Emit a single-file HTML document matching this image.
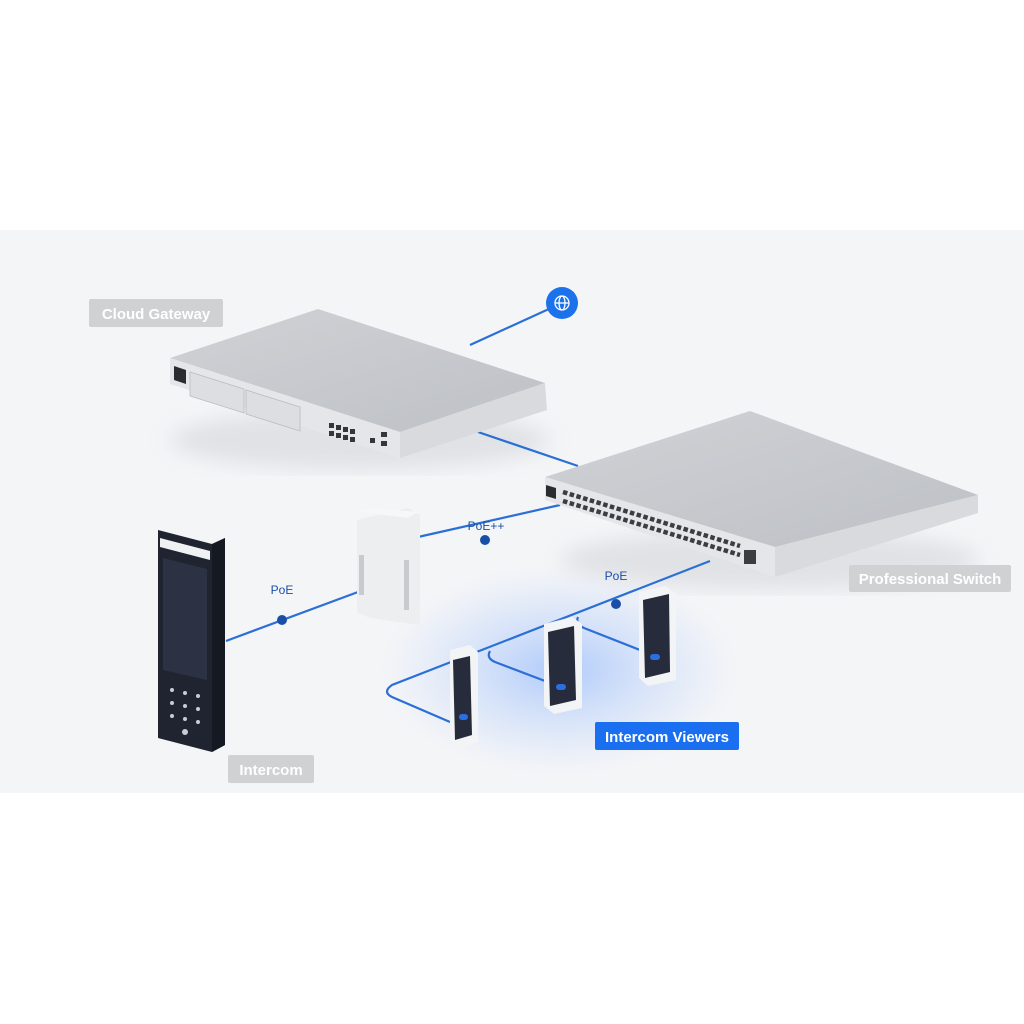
<!DOCTYPE html>
<html><head><meta charset="utf-8"><style>
html,body{margin:0;padding:0;background:#fff;}
svg{display:block}
text{font-family:"Liberation Sans",sans-serif}
</style></head><body>
<svg width="1024" height="1024" viewBox="0 0 1024 1024" xmlns="http://www.w3.org/2000/svg">
<defs>
<radialGradient id="glow" cx="50%" cy="50%" r="50%">
<stop offset="0" stop-color="#5a96ff" stop-opacity="0.45"/>
<stop offset="0.6" stop-color="#8ab4ff" stop-opacity="0.2"/>
<stop offset="1" stop-color="#a8c6ff" stop-opacity="0"/>
</radialGradient>
<linearGradient id="topg" x1="0" y1="0" x2="1" y2="1">
<stop offset="0" stop-color="#d0d2d6"/><stop offset="1" stop-color="#bdc0c5"/>
</linearGradient>
<filter id="blur"><feGaussianBlur stdDeviation="10"/></filter>
</defs>
<rect x="0" y="230" width="1024" height="563" fill="#f4f5f7"/>

<ellipse cx="560" cy="670" rx="180" ry="105" fill="url(#glow)"/>

<ellipse cx="360" cy="440" rx="190" ry="30" fill="#d8dadf" filter="url(#blur)" opacity="0.7"/>
<ellipse cx="770" cy="560" rx="210" ry="30" fill="#d8dadf" filter="url(#blur)" opacity="0.7"/>

<g stroke="#2b6fd6" stroke-width="2.2" fill="none">
<line x1="562" y1="303" x2="470" y2="345"/>
<line x1="478" y1="432" x2="578" y2="466"/>
<line x1="418" y1="537" x2="560" y2="505"/>
<line x1="226" y1="641" x2="358" y2="592"/>
<path d="M710 561 L392 685 Q382 692 392 697 L450 722"/>
<path d="M490 651 Q486 658 495 662 L545 681"/>
<path d="M578 617 Q575 624 584 628 L640 650"/>
</g>

<circle cx="562" cy="303" r="16" fill="#1c72ea"/>
<g stroke="#fff" stroke-width="1.3" fill="none">
<circle cx="562" cy="303" r="7"/><ellipse cx="562" cy="303" rx="3" ry="7"/>
<line x1="555" y1="303" x2="569" y2="303"/>
</g>

<polygon points="170,358 318,309 545,383 400,432" fill="url(#topg)"/>
<polygon points="170,358 400,432 400,458 170,384" fill="#e4e6e9"/>
<polygon points="400,432 545,383 547,410 400,458" fill="#d8dadd"/>
<polygon points="174,366 186,370 186,384 174,380" fill="#2a2c30"/>
<polygon points="190,372 244,389 244,413 190,396" fill="#dcdee1" stroke="#b8bbc0" stroke-width="0.8"/>
<polygon points="246,390 300,407 300,431 246,414" fill="#dcdee1" stroke="#b8bbc0" stroke-width="0.8"/>
<g fill="#33363b">
<rect x="329" y="423" width="5" height="5"/><rect x="336" y="425" width="5" height="5"/><rect x="343" y="427" width="5" height="5"/><rect x="350" y="429" width="5" height="5"/>
<rect x="329" y="431" width="5" height="5"/><rect x="336" y="433" width="5" height="5"/><rect x="343" y="435" width="5" height="5"/><rect x="350" y="437" width="5" height="5"/>
<rect x="370" y="438" width="5" height="5"/><rect x="381" y="432" width="6" height="5"/><rect x="381" y="441" width="6" height="5"/>
</g>

<polygon points="545,477 750,411 978,495 775,547" fill="url(#topg)"/>
<polygon points="545,477 775,547 775,577 545,500" fill="#e4e6e9"/>
<polygon points="775,547 978,495 978,513 775,577" fill="#d8dadd"/>
<polygon points="546,485 556,488 556,499 546,496" fill="#2a2c30"/>
<g stroke="#3a3d42" stroke-width="4.5" stroke-dasharray="4.5 2.5">
<line x1="563" y1="492" x2="740" y2="546"/>
<line x1="563" y1="501" x2="740" y2="555"/>
</g>
<rect x="744" y="550" width="12" height="14" fill="#3a3d42"/>

<polygon points="357,520 408,508 420,515 420,625 370,618 357,612" fill="#eceef0"/>
<polygon points="360,512 370,508 418,512 408,518" fill="#f6f7f8"/>
<rect x="359" y="555" width="5" height="40" fill="#c8cace"/>
<rect x="404" y="560" width="5" height="50" fill="#c8cace"/>

<polygon points="158,530 212,544 225,538 225,745 212,752 158,738" fill="#1f2430"/>
<polygon points="212,544 225,538 225,745 212,752" fill="#151922"/>
<polygon points="160,538 210,551 210,560 160,547" fill="#f0f1f3"/>
<polygon points="163,558 207,569 207,680 163,670" fill="#2c3244"/>
<g fill="#c8ccd6">
<circle cx="172" cy="690" r="2"/><circle cx="185" cy="693" r="2"/><circle cx="198" cy="696" r="2"/>
<circle cx="172" cy="703" r="2"/><circle cx="185" cy="706" r="2"/><circle cx="198" cy="709" r="2"/>
<circle cx="172" cy="716" r="2"/><circle cx="185" cy="719" r="2"/><circle cx="198" cy="722" r="2"/>
<circle cx="185" cy="732" r="3"/>
</g>

<g>
<polygon points="450,650 470,645 478,652 478,742 458,748 450,740" fill="#f3f4f6"/>
<polygon points="453,660 470,656 472,735 455,740" fill="#262c3c"/>
<rect x="459" y="714" width="9" height="6" rx="3" fill="#2a6ee0"/>
<polygon points="544,624 572,617 582,624 582,708 554,714 544,706" fill="#f3f4f6"/>
<polygon points="548,632 574,626 576,700 550,706" fill="#262c3c"/>
<rect x="556" y="684" width="10" height="6" rx="3" fill="#2a6ee0"/>
<polygon points="639,592 666,586 676,594 676,680 648,686 639,678" fill="#f3f4f6"/>
<polygon points="643,600 669,594 670,672 645,678" fill="#262c3c"/>
<rect x="650" y="654" width="10" height="6" rx="3" fill="#2a6ee0"/>
</g>

<g>
<circle cx="282" cy="620" r="5" fill="#1a4fa8"/><circle cx="485" cy="540" r="5" fill="#1a4fa8"/><circle cx="616" cy="604" r="5" fill="#1a4fa8"/>
</g>
<g fill="#1a4fa8" font-size="12" text-anchor="middle">
<text x="282" y="594">PoE</text><text x="486" y="530">PoE++</text><text x="616" y="580">PoE</text>
</g>

<rect x="89" y="299" width="134" height="28" rx="2" fill="#d0d1d3"/>
<text x="156" y="319" fill="#fff" font-size="15" font-weight="bold" text-anchor="middle">Cloud Gateway</text>
<rect x="849" y="565" width="162" height="27" rx="2" fill="#d0d1d3"/>
<text x="930" y="584" fill="#fff" font-size="15" font-weight="bold" text-anchor="middle">Professional Switch</text>
<rect x="228" y="755" width="86" height="28" rx="2" fill="#d0d1d3"/>
<text x="271" y="775" fill="#fff" font-size="15" font-weight="bold" text-anchor="middle">Intercom</text>
<rect x="595" y="722" width="144" height="28" rx="2" fill="#1a6ff0"/>
<text x="667" y="742" fill="#fff" font-size="15" font-weight="bold" text-anchor="middle">Intercom Viewers</text>
</svg>
</body></html>
